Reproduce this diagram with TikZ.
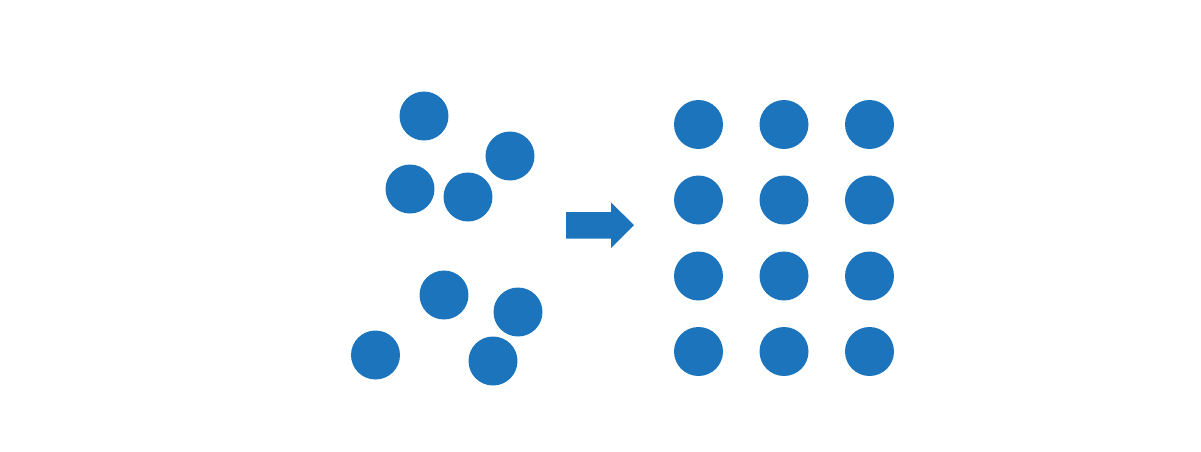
\documentclass[tikz,border=0pt]{standalone}
\definecolor{dotblue}{RGB}{28,117,188}
\begin{document}
\begin{tikzpicture}[x=0.02cm,y=-0.02cm,
  dot/.style={circle,fill=dotblue,inner sep=0pt,minimum size=0.98cm}]
  \useasboundingbox (0,0) rectangle (1201,451);
  % scattered particles
  \node[dot] (s1) at (424,116) {};
  \node[dot] (s2) at (510,156) {};
  \node[dot] (s3) at (410,189) {};
  \node[dot] (s4) at (468,197) {};
  \node[dot] (s5) at (444,295) {};
  \node[dot] (s6) at (518,312) {};
  \node[dot] (s7) at (375.5,355) {};
  \node[dot] (s8) at (493,361) {};
  % block arrow
  \fill[dotblue] (566,212) -- (611,212) -- (611,202.5) -- (634,225)
    -- (611,248) -- (611,238.5) -- (566,238.5) -- cycle;
  % ordered grid
  \foreach \c/\x in {1/698.5,2/784,3/869.5}
    \foreach \r/\y in {1/124.5,2/200,3/276,4/351.5}
      \node[dot] (g\r\c) at (\x,\y) {};
\end{tikzpicture}
\end{document}
